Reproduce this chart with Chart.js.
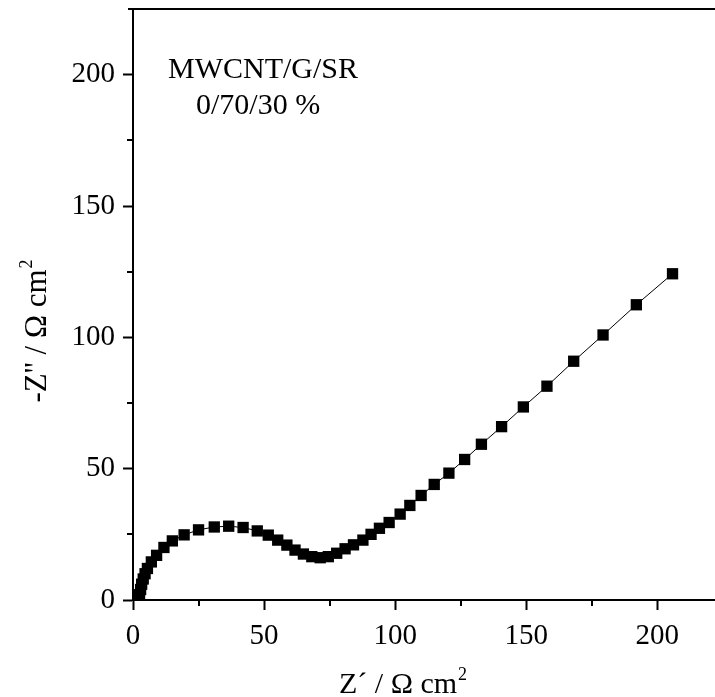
<!DOCTYPE html>
<html>
<head>
<meta charset="utf-8">
<script src="https://cdn.jsdelivr.net/npm/chart.js@4.4.1/dist/chart.umd.min.js"></script>
<style>
  html, body { margin: 0; padding: 0; background: #fff; }
  #wrap { width: 715px; height: 697px; }
</style>
</head>
<body>
<div id="wrap"><canvas id="nyquist" width="715" height="697"></canvas></div>
<script>
const zReal = [2.3, 2.5, 2.9, 3.3, 3.9, 4.6, 5.5, 7.0, 9.0, 11.8, 15.0, 19.5, 25.0, 31.0, 36.5, 42.0,
  47.4, 51.6, 55.2, 58.7, 61.8, 65.0, 68.2, 71.4, 74.5, 77.7, 80.9, 84.1, 87.7, 90.8, 94.0, 97.7,
  101.9, 105.6, 109.9, 114.9, 120.5, 126.5, 132.9, 140.6, 148.9, 157.9, 168.1, 179.3, 192.0, 205.8];
const zImag = [0.5, 2.0, 4.0, 6.0, 8.0, 10.0, 12.0, 14.5, 17.0, 20.0, 22.5, 24.8, 26.7, 27.8, 28.1, 27.6,
  26.3, 24.7, 22.8, 20.9, 19.0, 17.5, 16.5, 16.1, 16.5, 17.8, 19.5, 21.0, 22.8, 25.0, 27.3, 29.5,
  32.7, 36.0, 39.8, 44.0, 48.3, 53.5, 59.3, 66.0, 73.5, 81.4, 90.9, 100.9, 112.4, 124.2];

const xMajor = [0, 50, 100, 150, 200];
const yMajor = [0, 50, 100, 150, 200];
const xMinor = [25, 75, 125, 175];
const yMinor = [25, 75, 125, 175];

const labelLines = ['MWCNT/G/SR', '0/70/30 %'];

const serif = '"Liberation Serif", "Times New Roman", serif';

const points = zReal.map((x, i) => ({ x: x, y: zImag[i] }));

// minor ticks, annotation and axis titles with superscripts
const extras = {
  id: 'extras',
  afterDraw(chart) {
    const ctx = chart.ctx;
    const xs = chart.scales.x;
    const ys = chart.scales.y;
    const area = chart.chartArea;
    ctx.save();
    ctx.strokeStyle = '#000';
    ctx.lineWidth = 2;
    ctx.beginPath();
    xMinor.forEach(v => {
      const px = Math.round(xs.getPixelForValue(v));
      ctx.moveTo(px, area.bottom);
      ctx.lineTo(px, area.bottom + 6);
    });
    yMinor.forEach(v => {
      const py = Math.round(ys.getPixelForValue(v));
      ctx.moveTo(area.left, py);
      ctx.lineTo(area.left - 6, py);
    });
    // top frame line starts a little left of the y axis
    ctx.moveTo(area.left - 5, area.top);
    ctx.lineTo(area.right, area.top);
    ctx.stroke();

    ctx.fillStyle = '#000';
    ctx.textBaseline = 'alphabetic';
    ctx.font = '30px ' + serif;
    ctx.textAlign = 'left';
    ctx.fillText(labelLines[0], 168, 78);
    ctx.fillText(labelLines[1], 196, 114);

    // x title
    const xt = 'Z\u00b4 / \u03a9 cm';
    ctx.font = '30px ' + serif;
    const xw = ctx.measureText(xt).width;
    const xl = 339;
    ctx.fillText(xt, xl, 693);
    ctx.font = '18px ' + serif;
    ctx.fillText('2', xl + xw + 1, 680);

    // y title, rotated
    ctx.translate(46, 331);
    ctx.rotate(-Math.PI / 2);
    const yt = '-Z\'\' / \u03a9 cm';
    ctx.font = '31px ' + serif;
    const yw = ctx.measureText(yt).width;
    ctx.textAlign = 'left';
    ctx.fillText(yt, -yw / 2 - 5, 0);
    ctx.font = '18px ' + serif;
    ctx.fillText('2', yw / 2 - 4, -14);
    ctx.restore();
  }
};

const noPad = s => {
  s.paddingLeft = 0;
  s.paddingRight = 0;
  s.paddingTop = 0;
  s.paddingBottom = 0;
};

const axisCommon = {
  type: 'linear',
  border: { display: true, color: '#000', width: 2 },
  grid: { display: true, drawOnChartArea: false, drawTicks: true, tickLength: 10, tickWidth: 2, tickColor: '#000' },
};

new Chart(document.getElementById('nyquist'), {
  type: 'scatter',
  data: {
    datasets: [{
      data: points,
      showLine: true,
      borderColor: '#000',
      borderWidth: 1,
      backgroundColor: '#000',
      pointStyle: 'rect',
      pointRadius: 8,
      pointBorderWidth: 0,
      pointHoverRadius: 8,
      tension: 0
    }]
  },
  options: {
    responsive: false,
    animation: false,
    events: [],
    layout: { padding: { top: 9, right: 0, bottom: 0, left: 0 }, autoPadding: false },
    plugins: { legend: { display: false }, tooltip: { enabled: false } },
    scales: {
      x: {
        ...axisCommon,
        position: 'bottom',
        min: 0,
        max: 222,
        afterBuildTicks: s => { s.ticks = xMajor.map(v => ({ value: v })); },
        ticks: { color: '#000', font: { family: serif, size: 29 }, padding: 9, maxRotation: 0 },
        afterFit: s => { s.height = 97; noPad(s); }
      },
      y: {
        ...axisCommon,
        position: 'left',
        min: 0,
        max: 225,
        afterBuildTicks: s => { s.ticks = yMajor.map(v => ({ value: v })); },
        ticks: { color: '#000', font: { family: serif, size: 29 }, padding: 8 },
        afterFit: s => { s.width = 133; noPad(s); }
      }
    }
  },
  plugins: [extras]
});
</script>
</body>
</html>
